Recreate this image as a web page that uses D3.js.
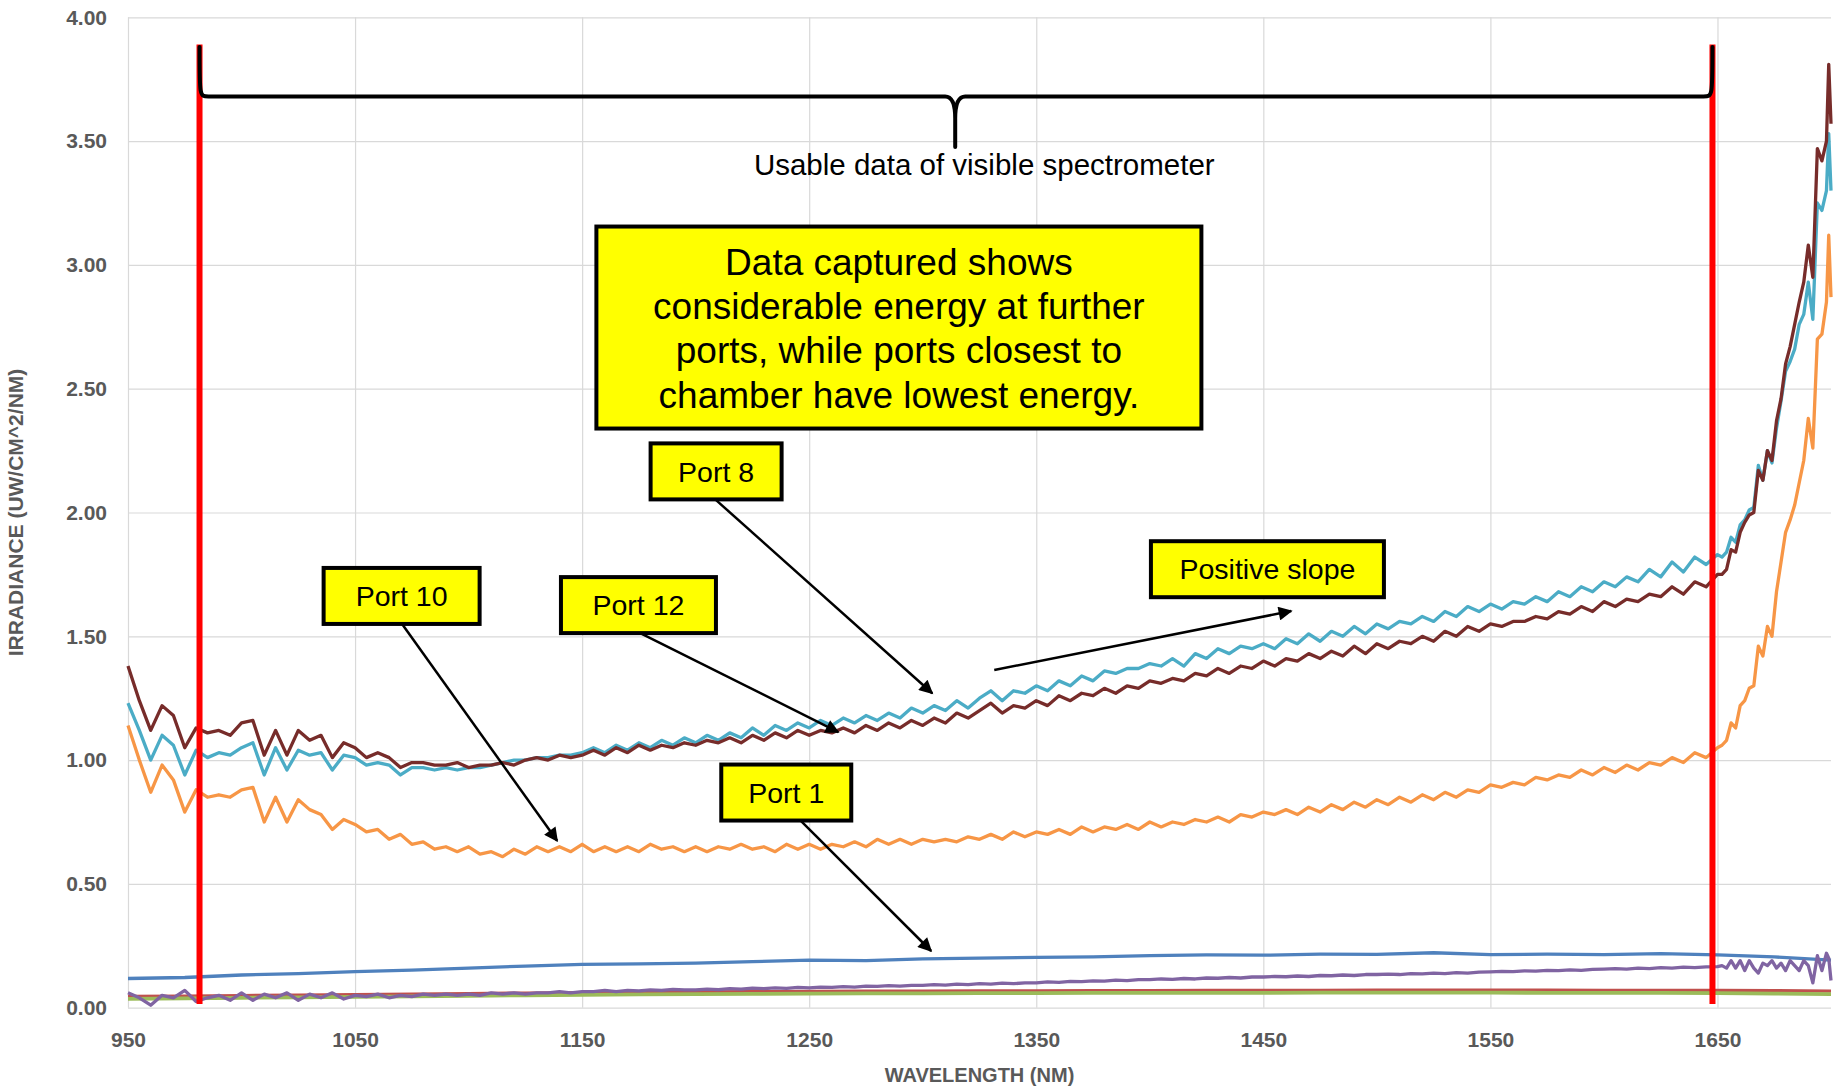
<!DOCTYPE html>
<html>
<head>
<meta charset="utf-8">
<script src="https://cdn.jsdelivr.net/npm/d3@7"></script>
<style>
body { margin: 0; background: #fff; }
text { font-family: "Liberation Sans", Arial, sans-serif; }
</style>
</head>
<body>
<div id="chart"></div>
<script>
// wavelength grid (nm) for the noisy series
var wavelengths = [
  950, 955, 960, 965, 970, 975, 980, 985, 990, 995,
  1000, 1005, 1010, 1015, 1020, 1025, 1030, 1035, 1040, 1045,
  1050, 1055, 1060, 1065, 1070, 1075, 1080, 1085, 1090, 1095,
  1100, 1105, 1110, 1115, 1120, 1125, 1130, 1135, 1140, 1145,
  1150, 1155, 1160, 1165, 1170, 1175, 1180, 1185, 1190, 1195,
  1200, 1205, 1210, 1215, 1220, 1225, 1230, 1235, 1240, 1245,
  1250, 1255, 1260, 1265, 1270, 1275, 1280, 1285, 1290, 1295,
  1300, 1305, 1310, 1315, 1320, 1325, 1330, 1335, 1340, 1345,
  1350, 1355, 1360, 1365, 1370, 1375, 1380, 1385, 1390, 1395,
  1400, 1405, 1410, 1415, 1420, 1425, 1430, 1435, 1440, 1445,
  1450, 1455, 1460, 1465, 1470, 1475, 1480, 1485, 1490, 1495,
  1500, 1505, 1510, 1515, 1520, 1525, 1530, 1535, 1540, 1545,
  1550, 1555, 1560, 1565, 1570, 1575, 1580, 1585, 1590, 1595,
  1600, 1605, 1610, 1615, 1620, 1625, 1630, 1635, 1640, 1645,
  1650,
  1652, 1654, 1656, 1658, 1660, 1662, 1664, 1666, 1668, 1670,
  1672, 1674, 1676, 1678, 1680, 1682, 1684, 1686, 1688, 1690,
  1692, 1694, 1696, 1698, 1699, 1700
];

var port8 = [
  1.23, 1.12, 1.00, 1.10, 1.06, 0.94, 1.04, 1.01, 1.03, 1.02,
  1.05, 1.07, 0.94, 1.05, 0.96, 1.04, 1.02, 1.03, 0.96, 1.02,
  1.01, 0.98, 0.99, 0.98, 0.94, 0.97, 0.97, 0.96, 0.97, 0.96,
  0.97, 0.97, 0.98, 0.99, 1.00, 1.00, 1.01, 1.01, 1.02, 1.02,
  1.03, 1.05, 1.03, 1.06, 1.04, 1.07, 1.05, 1.08, 1.06, 1.09,
  1.07, 1.10, 1.08, 1.11, 1.09, 1.13, 1.10, 1.14, 1.12, 1.15,
  1.13, 1.16, 1.14, 1.17, 1.15, 1.18, 1.16, 1.19, 1.17, 1.21,
  1.19, 1.22, 1.20, 1.24, 1.21, 1.25, 1.28, 1.24, 1.28, 1.27,
  1.30, 1.28, 1.32, 1.30, 1.34, 1.32, 1.36, 1.35, 1.37, 1.37,
  1.39, 1.38, 1.41, 1.38, 1.43, 1.41, 1.45, 1.43, 1.46, 1.45,
  1.47, 1.45, 1.49, 1.47, 1.51, 1.48, 1.52, 1.50, 1.54, 1.51,
  1.55, 1.53, 1.56, 1.55, 1.58, 1.56, 1.60, 1.58, 1.62, 1.60,
  1.63, 1.61, 1.64, 1.63, 1.66, 1.64, 1.68, 1.66, 1.70, 1.68,
  1.72, 1.70, 1.74, 1.72, 1.77, 1.74, 1.80, 1.76, 1.82, 1.79,
  1.83,
  1.82, 1.84, 1.90, 1.88, 1.95, 1.97, 2.01, 2.02, 2.19, 2.13,
  2.25, 2.20, 2.34, 2.45, 2.57, 2.61, 2.66, 2.76, 2.80, 2.93,
  2.78, 3.25, 3.22, 3.30, 3.53, 3.30
];

var port12 = [
  1.38, 1.24, 1.12, 1.22, 1.18, 1.05, 1.13, 1.11, 1.12, 1.10,
  1.15, 1.16, 1.02, 1.12, 1.02, 1.12, 1.08, 1.10, 1.01, 1.07,
  1.05, 1.01, 1.03, 1.01, 0.97, 0.99, 0.99, 0.98, 0.98, 0.99,
  0.97, 0.98, 0.98, 0.99, 0.98, 1.00, 1.01, 1.00, 1.02, 1.01,
  1.02, 1.04, 1.02, 1.05, 1.03, 1.06, 1.04, 1.06, 1.05, 1.07,
  1.06, 1.08, 1.07, 1.09, 1.07, 1.10, 1.08, 1.11, 1.09, 1.12,
  1.10, 1.12, 1.11, 1.13, 1.11, 1.14, 1.12, 1.15, 1.13, 1.16,
  1.14, 1.17, 1.15, 1.19, 1.17, 1.20, 1.23, 1.19, 1.22, 1.21,
  1.24, 1.22, 1.26, 1.24, 1.27, 1.26, 1.29, 1.27, 1.30, 1.29,
  1.32, 1.31, 1.33, 1.32, 1.35, 1.34, 1.37, 1.35, 1.38, 1.37,
  1.40, 1.38, 1.41, 1.40, 1.43, 1.41, 1.44, 1.42, 1.46, 1.43,
  1.47, 1.45, 1.48, 1.47, 1.50, 1.48, 1.52, 1.50, 1.54, 1.52,
  1.55, 1.54, 1.56, 1.56, 1.58, 1.57, 1.60, 1.59, 1.62, 1.60,
  1.64, 1.62, 1.65, 1.64, 1.67, 1.66, 1.70, 1.67, 1.72, 1.70,
  1.75,
  1.75, 1.77, 1.85, 1.84, 1.92, 1.96, 1.99, 2.00, 2.17, 2.13,
  2.25, 2.21, 2.37, 2.46, 2.60, 2.67, 2.76, 2.85, 2.93, 3.08,
  2.95, 3.47, 3.42, 3.50, 3.81, 3.57
];

var port10 = [
  1.14, 1.00, 0.87, 0.98, 0.92, 0.79, 0.88, 0.85, 0.86, 0.85,
  0.88, 0.89, 0.75, 0.85, 0.75, 0.84, 0.80, 0.78, 0.72, 0.76,
  0.74, 0.71, 0.72, 0.68, 0.70, 0.66, 0.67, 0.64, 0.65, 0.63,
  0.65, 0.62, 0.63, 0.61, 0.64, 0.62, 0.65, 0.63, 0.65, 0.63,
  0.66, 0.63, 0.65, 0.63, 0.65, 0.63, 0.66, 0.64, 0.65, 0.63,
  0.65, 0.63, 0.65, 0.64, 0.66, 0.64, 0.65, 0.63, 0.66, 0.64,
  0.66, 0.64, 0.66, 0.65, 0.67, 0.65, 0.68, 0.66, 0.68, 0.66,
  0.68, 0.67, 0.68, 0.67, 0.69, 0.68, 0.70, 0.68, 0.71, 0.69,
  0.71, 0.70, 0.72, 0.70, 0.73, 0.71, 0.73, 0.72, 0.74, 0.72,
  0.75, 0.73, 0.75, 0.74, 0.76, 0.75, 0.77, 0.75, 0.78, 0.77,
  0.79, 0.78, 0.80, 0.78, 0.81, 0.79, 0.82, 0.80, 0.83, 0.81,
  0.84, 0.82, 0.85, 0.83, 0.86, 0.84, 0.87, 0.85, 0.88, 0.87,
  0.90, 0.89, 0.91, 0.90, 0.93, 0.92, 0.94, 0.93, 0.96, 0.94,
  0.97, 0.95, 0.98, 0.96, 0.99, 0.98, 1.01, 0.99, 1.03, 1.01,
  1.05,
  1.06, 1.08, 1.15, 1.13, 1.22, 1.24, 1.29, 1.30, 1.46, 1.42,
  1.54, 1.50, 1.68, 1.80, 1.92, 1.97, 2.03, 2.12, 2.21, 2.38,
  2.26, 2.70, 2.72, 2.85, 3.12, 2.87
];

var portPurple = [
  0.06, 0.04, 0.01, 0.05, 0.04, 0.07, 0.025, 0.04, 0.05, 0.03,
  0.06, 0.03, 0.055, 0.04, 0.06, 0.03, 0.055, 0.04, 0.06, 0.035,
  0.05, 0.045, 0.055, 0.04, 0.05, 0.045, 0.055, 0.05, 0.055, 0.05,
  0.055, 0.05, 0.06, 0.055, 0.06, 0.055, 0.06, 0.06, 0.065, 0.06,
  0.065, 0.065, 0.07, 0.065, 0.07, 0.068, 0.072, 0.07, 0.074, 0.072,
  0.072, 0.075, 0.073, 0.077, 0.075, 0.079, 0.077, 0.08, 0.078, 0.082,
  0.08, 0.083, 0.082, 0.085, 0.083, 0.087, 0.086, 0.089, 0.087, 0.09,
  0.09, 0.093, 0.091, 0.095, 0.093, 0.097, 0.095, 0.099, 0.097, 0.1,
  0.1, 0.104, 0.102, 0.106, 0.105, 0.108, 0.107, 0.111, 0.109, 0.113,
  0.113, 0.116, 0.114, 0.118, 0.116, 0.12, 0.119, 0.122, 0.12, 0.124,
  0.124, 0.126, 0.125, 0.128, 0.126, 0.13, 0.129, 0.132, 0.13, 0.134,
  0.134, 0.136, 0.134, 0.138, 0.137, 0.14, 0.138, 0.142, 0.14, 0.144,
  0.145, 0.147, 0.146, 0.149, 0.148, 0.151, 0.15, 0.153, 0.151, 0.155,
  0.156, 0.158, 0.156, 0.16, 0.158, 0.162, 0.16, 0.164, 0.162, 0.165,
  0.166,
  0.17, 0.16, 0.19, 0.16, 0.19, 0.15, 0.19, 0.16, 0.14, 0.18,
  0.17, 0.19, 0.16, 0.18, 0.15, 0.19, 0.17, 0.15, 0.19, 0.17,
  0.10, 0.21, 0.15, 0.22, 0.20, 0.11
];

// coarse grid for the smooth low series
var wavelengthsCoarse = [
  950, 975, 1000, 1025, 1050, 1075, 1100, 1125, 1150, 1175,
  1200, 1225, 1250, 1275, 1300, 1325, 1350, 1375, 1400, 1425,
  1450, 1475, 1500, 1525, 1550, 1575, 1600, 1625, 1650, 1675, 1700
];
var port1 = [
  0.118, 0.122, 0.132, 0.138, 0.146, 0.152, 0.160, 0.168, 0.175, 0.177,
  0.180, 0.186, 0.192, 0.190, 0.197, 0.200, 0.203, 0.205, 0.210, 0.213,
  0.212, 0.216, 0.215, 0.222, 0.214, 0.216, 0.214, 0.218, 0.213, 0.205, 0.192
];
var portRed = [
  0.046, 0.047, 0.049, 0.051, 0.053, 0.055, 0.057, 0.059, 0.061, 0.063,
  0.064, 0.065, 0.066, 0.067, 0.067, 0.068, 0.068, 0.069, 0.069, 0.070,
  0.070, 0.070, 0.071, 0.071, 0.071, 0.071, 0.070, 0.070, 0.070, 0.069, 0.067
];
var portGreen = [
  0.036, 0.038, 0.040, 0.042, 0.044, 0.046, 0.048, 0.050, 0.052, 0.054,
  0.055, 0.056, 0.057, 0.058, 0.058, 0.059, 0.059, 0.060, 0.060, 0.060,
  0.060, 0.061, 0.061, 0.061, 0.061, 0.060, 0.060, 0.060, 0.059, 0.057, 0.055
];

var xTicks = [950, 1050, 1150, 1250, 1350, 1450, 1550, 1650];
var yTicks = [0, 0.5, 1, 1.5, 2, 2.5, 3, 3.5, 4];

// usable range markers (nm)
var usableRange = [981.5, 1647.8];

var calloutText = ["Port 8", "Port 10", "Port 12", "Positive slope", "Port 1"];
var calloutX = [1209.0, 1070.5, 1174.8, 1451.8, 1239.9];
var calloutY = [2.166, 1.663, 1.626, 1.771, 0.869];
var arrowFrom = [[1209.0, 2.05], [1070.7, 1.55], [1175.6, 1.513], [1331.5, 1.364], [1246.0, 0.758]];
var arrowTo = [[1304.2, 1.27], [1139.0, 0.674], [1262.8, 1.113], [1462.3, 1.602], [1303.7, 0.229]];

var noteLines = ["Data captured shows", "considerable energy at further",
  "ports, while ports closest to", "chamber have lowest energy."];

var svgWidth = 1845;
var svgHeight = 1088;
var plotLeft = 128, plotRight = 1831, plotTop = 17.3, plotBottom = 1007.7;

var x = d3.scaleLinear().domain([950, 1700]).range([plotLeft, plotRight]);
var y = d3.scaleLinear().domain([0, 4]).range([plotBottom, plotTop]);

var svg = d3.select("#chart")
    .append("svg")
        .attr("width", svgWidth)
        .attr("height", svgHeight);

// gridlines + tick labels
var yAxis = svg.append("g")
    .attr("transform", "translate(" + plotLeft + ",0)")
    .call(d3.axisLeft(y).tickValues(yTicks).tickSize(-(plotRight - plotLeft))
        .tickPadding(21).tickFormat(d3.format(".2f")));
var xAxis = svg.append("g")
    .attr("transform", "translate(0," + plotBottom + ")")
    .call(d3.axisBottom(x).tickValues(xTicks).tickSize(-(plotBottom - plotTop))
        .tickPadding(24).tickFormat(d3.format("d")));

[yAxis, xAxis].forEach(function(g) {
    g.select(".domain").remove();
    g.selectAll(".tick line").attr("stroke", "#d9d9d9").attr("stroke-width", 1.2);
    g.selectAll(".tick text")
        .attr("fill", "#595959")
        .style("font-family", "'Liberation Sans', Arial, sans-serif")
        .style("font-weight", "bold")
        .style("font-size", "21px");
});

// axis titles
svg.append("text")
    .attr("x", (plotLeft + plotRight) / 2)
    .attr("y", 1081.5)
    .attr("text-anchor", "middle")
    .attr("fill", "#595959")
    .style("font-weight", "bold")
    .style("font-size", "20px")
    .text("WAVELENGTH (NM)");

svg.append("text")
    .attr("transform", "translate(23," + ((plotTop + plotBottom) / 2) + ") rotate(-90)")
    .attr("text-anchor", "middle")
    .attr("fill", "#595959")
    .style("font-weight", "bold")
    .style("font-size", "21px")
    .text("IRRADIANCE (UW/CM^2/NM)");

// data series
var series = [
    {xs: wavelengthsCoarse, ys: port1, color: "#4F81BD", w: 3.3},
    {xs: wavelengthsCoarse, ys: portRed, color: "#C0504D", w: 3.3},
    {xs: wavelengthsCoarse, ys: portGreen, color: "#9BBB59", w: 3.8},
    {xs: wavelengths, ys: portPurple, color: "#8064A2", w: 3.3},
    {xs: wavelengths, ys: port8, color: "#4BACC6", w: 3.3},
    {xs: wavelengths, ys: port10, color: "#F79646", w: 3.3},
    {xs: wavelengths, ys: port12, color: "#772C2A", w: 3.3}
];

var line = d3.line()
    .x(function(d) { return x(d[0]); })
    .y(function(d) { return y(d[1]); });

svg.selectAll("path.series")
    .data(series)
    .enter().append("path")
    .classed("series", true)
    .attr("fill", "none")
    .attr("stroke", function(d) { return d.color; })
    .attr("stroke-width", function(d) { return d.w; })
    .attr("stroke-linejoin", "round")
    .attr("d", function(d) {
        return line(d.xs.map(function(v, i) { return [v, d.ys[i]]; }));
    });

// red markers of the usable range
svg.selectAll("line.range")
    .data(usableRange)
    .enter().append("line")
    .classed("range", true)
    .attr("x1", function(d) { return x(d); })
    .attr("x2", function(d) { return x(d); })
    .attr("y1", y(3.89))
    .attr("y2", y(0.015))
    .attr("stroke", "#ff0000")
    .attr("stroke-width", 6);

// curly brace
var bl = x(usableRange[0]), br = x(usableRange[1]);
var bTop = y(3.88), bH = y(3.68), bTipX = x(1314.3), bTip = y(3.476);
var brace = "M" + bl + "," + bTop +
    " C" + bl + "," + bH + " " + bl + "," + bH + " " + (bl + 9) + "," + bH +
    " L" + (bTipX - 10) + "," + bH +
    " Q" + bTipX + "," + bH + " " + bTipX + "," + (bH + 22) +
    " L" + bTipX + "," + bTip +
    " M" + bTipX + "," + (bH + 22) +
    " Q" + bTipX + "," + bH + " " + (bTipX + 10) + "," + bH +
    " L" + (br - 9) + "," + bH +
    " C" + br + "," + bH + " " + br + "," + bH + " " + br + "," + bTop;
svg.append("path")
    .attr("d", brace)
    .attr("fill", "none")
    .attr("stroke", "#000")
    .attr("stroke-width", 4)
    .attr("stroke-linecap", "round")
    .attr("stroke-linejoin", "round");

svg.append("text")
    .attr("x", x(1327.1))
    .attr("y", y(3.365))
    .attr("text-anchor", "middle")
    .style("font-size", "29.5px")
    .text("Usable data of visible spectrometer");

// big note box
var noteW = 605, noteH = 202;
var noteCx = x(1289.5), noteCy = y(2.747);
svg.append("rect")
    .attr("x", noteCx - noteW / 2)
    .attr("y", noteCy - noteH / 2)
    .attr("width", noteW)
    .attr("height", noteH)
    .attr("fill", "#ffff00")
    .attr("stroke", "#000")
    .attr("stroke-width", 4);
svg.append("text")
    .attr("text-anchor", "middle")
    .style("font-size", "37px")
    .selectAll("tspan")
    .data(noteLines)
    .enter().append("tspan")
    .attr("x", noteCx)
    .attr("y", function(d, i) { return noteCy - 53 + i * 44.4; })
    .text(function(d) { return d; });

// arrows
svg.append("defs").append("marker")
    .attr("id", "head")
    .attr("viewBox", "0 0 10 10")
    .attr("refX", 9)
    .attr("refY", 5)
    .attr("markerUnits", "userSpaceOnUse")
    .attr("markerWidth", 17)
    .attr("markerHeight", 14)
    .attr("orient", "auto")
    .append("path")
    .attr("d", "M0,0 L10,5 L0,10 Z")
    .attr("fill", "#000");

svg.selectAll("line.arrow")
    .data(arrowFrom)
    .enter().append("line")
    .classed("arrow", true)
    .attr("x1", function(d) { return x(d[0]); })
    .attr("y1", function(d) { return y(d[1]); })
    .attr("x2", function(d, i) { return x(arrowTo[i][0]); })
    .attr("y2", function(d, i) { return y(arrowTo[i][1]); })
    .attr("stroke", "#000")
    .attr("stroke-width", 2.5)
    .attr("marker-end", "url(#head)");

// port callouts
var boxW = [131, 156, 155, 233, 130];
var boxH = 56;
var callouts = svg.selectAll("g.callout")
    .data(calloutText)
    .enter().append("g")
    .classed("callout", true)
    .attr("transform", function(d, i) {
        return "translate(" + x(calloutX[i]) + "," + y(calloutY[i]) + ")";
    });
callouts.append("rect")
    .attr("x", function(d, i) { return -boxW[i] / 2; })
    .attr("y", -boxH / 2)
    .attr("width", function(d, i) { return boxW[i]; })
    .attr("height", boxH)
    .attr("fill", "#ffff00")
    .attr("stroke", "#000")
    .attr("stroke-width", 4);
callouts.append("text")
    .attr("text-anchor", "middle")
    .attr("dy", "0.36em")
    .style("font-size", "28.5px")
    .text(function(d) { return d; });
</script>
</body>
</html>
